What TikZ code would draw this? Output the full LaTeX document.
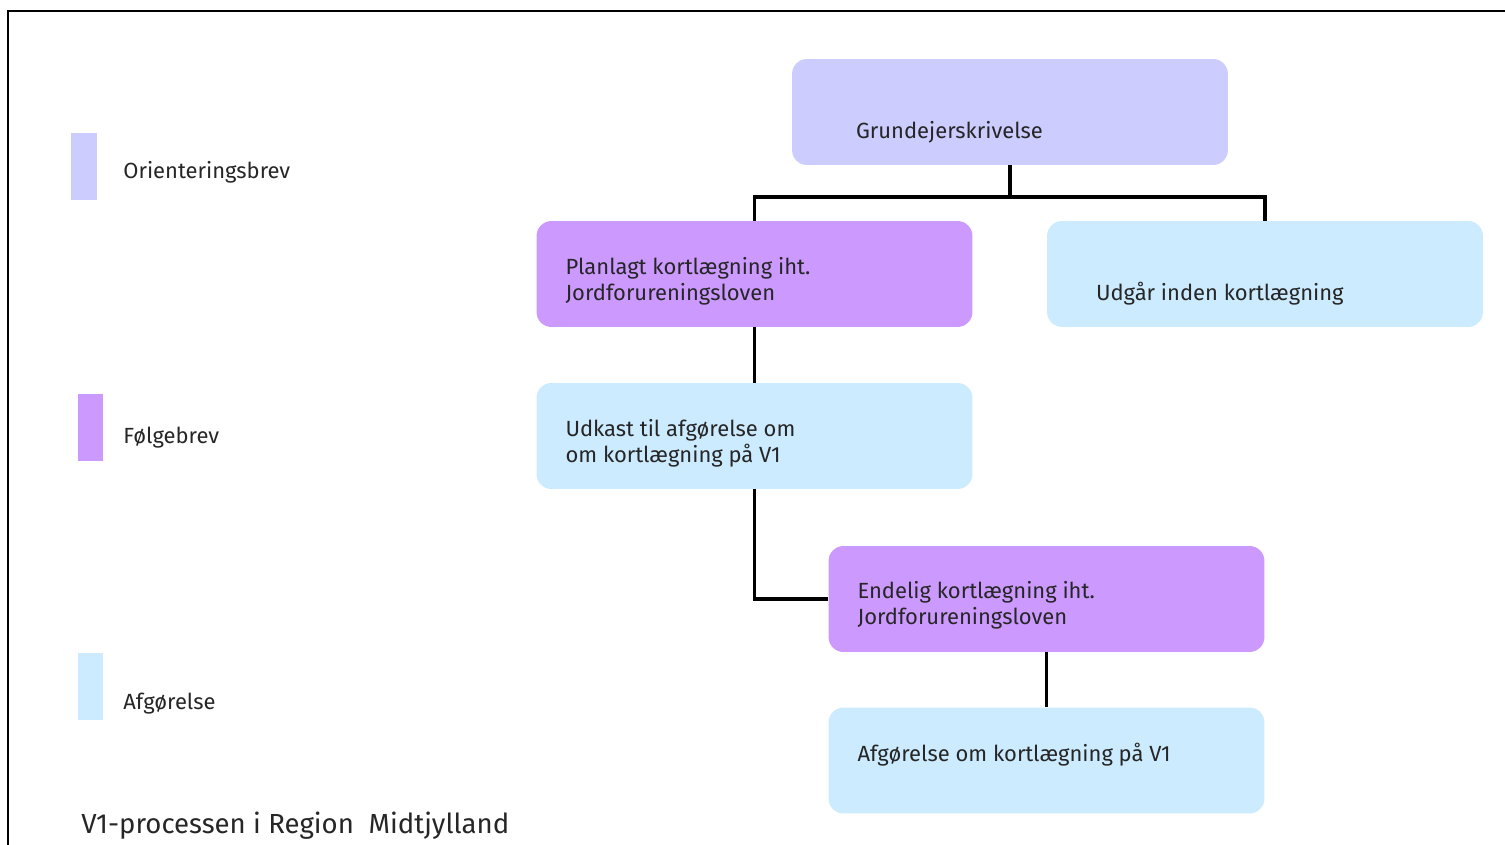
\documentclass[tikz,border=0pt]{standalone}
\usepackage{fontspec}
\setmainfont{Fira Sans}
\usetikzlibrary{positioning,calc}
\definecolor{orient}{HTML}{CCCCFF}
\definecolor{folge}{HTML}{CC99FF}
\definecolor{afg}{HTML}{CCEBFF}

\begin{document}
\begin{tikzpicture}[x=0.02cm, y=-0.02cm,
    box/.style={rectangle, rounded corners=0.3cm, minimum width=8.72cm, minimum height=2.12cm, inner sep=0pt},
    txt/.style={anchor=west, align=left, inner sep=0pt, text=black!85, font=\fontsize{12.5}{14.8}\selectfont},
    key/.style={rectangle, minimum width=0.52cm, minimum height=1.34cm, inner sep=0pt},
    con/.style={line width=2.1pt}]
    \clip (0,0) rectangle (1505,845);
    \useasboundingbox (0,0) rectangle (1505,845);
    \draw[line width=1.2pt] (8,860) |- (1520,11);

    % boxes
    \node[box, fill=orient] (g) at (1010,112) {};
    \node[box, fill=folge] (p) at (754.5,274) {};
    \node[box, fill=afg] (ug) at (1265,274) {};
    \node[box, fill=afg] (ud) at (754.5,436) {};
    \node[box, fill=folge] (e) at (1046.5,599) {};
    \node[box, fill=afg] (a) at (1046.5,760.5) {};

    \node[txt] (gt) at ($(g.west)+(64,20)$) {Grundejerskrivelse};
    \node[txt] (pt) at ($(p.west)+(29,7)$) {Planlagt kortlægning iht.\\Jordforureningsloven};
    \node[txt] (ugt) at ($(ug.west)+(49,19.5)$) {Udgår inden kortlægning};
    \node[txt] (udt) at ($(ud.west)+(29,7)$) {Udkast til afgørelse om\\om kortlægning på V1};
    \node[txt] (et) at ($(e.west)+(29,6)$) {Endelig kortlægning iht.\\Jordforureningsloven};
    \node[txt] (at) at ($(a.west)+(29,-6)$) {Afgørelse om kortlægning på V1};

    % connectors
    \draw[con] (g.south) -- ++(0,32) coordinate (m);
    \draw[con] (p.north) |- (m) -| (ug.north);
    \draw[con] (p.south) -- (ud.north);
    \draw[con] (ud.south) |- (e.west);
    \draw[con] (e.south) -- (a.north);

    % legend
    \node[key, fill=orient] (k1) at (84,166.5) {};
    \node[key, fill=folge] (k2) at (90.5,427.5) {};
    \node[key, fill=afg] (k3) at (90.5,686.5) {};
    \node[txt] (k1t) at (123,172) {Orienteringsbrev};
    \node[txt] (k2t) at (123,438) {Følgebrev};
    \node[txt] (k3t) at (123,704) {Afgørelse};

    \node[txt, font=\fontsize{15.7}{18}\selectfont] (title) at (81,826) {V1-processen i Region\ \ Midtjylland};
\end{tikzpicture}
\end{document}
